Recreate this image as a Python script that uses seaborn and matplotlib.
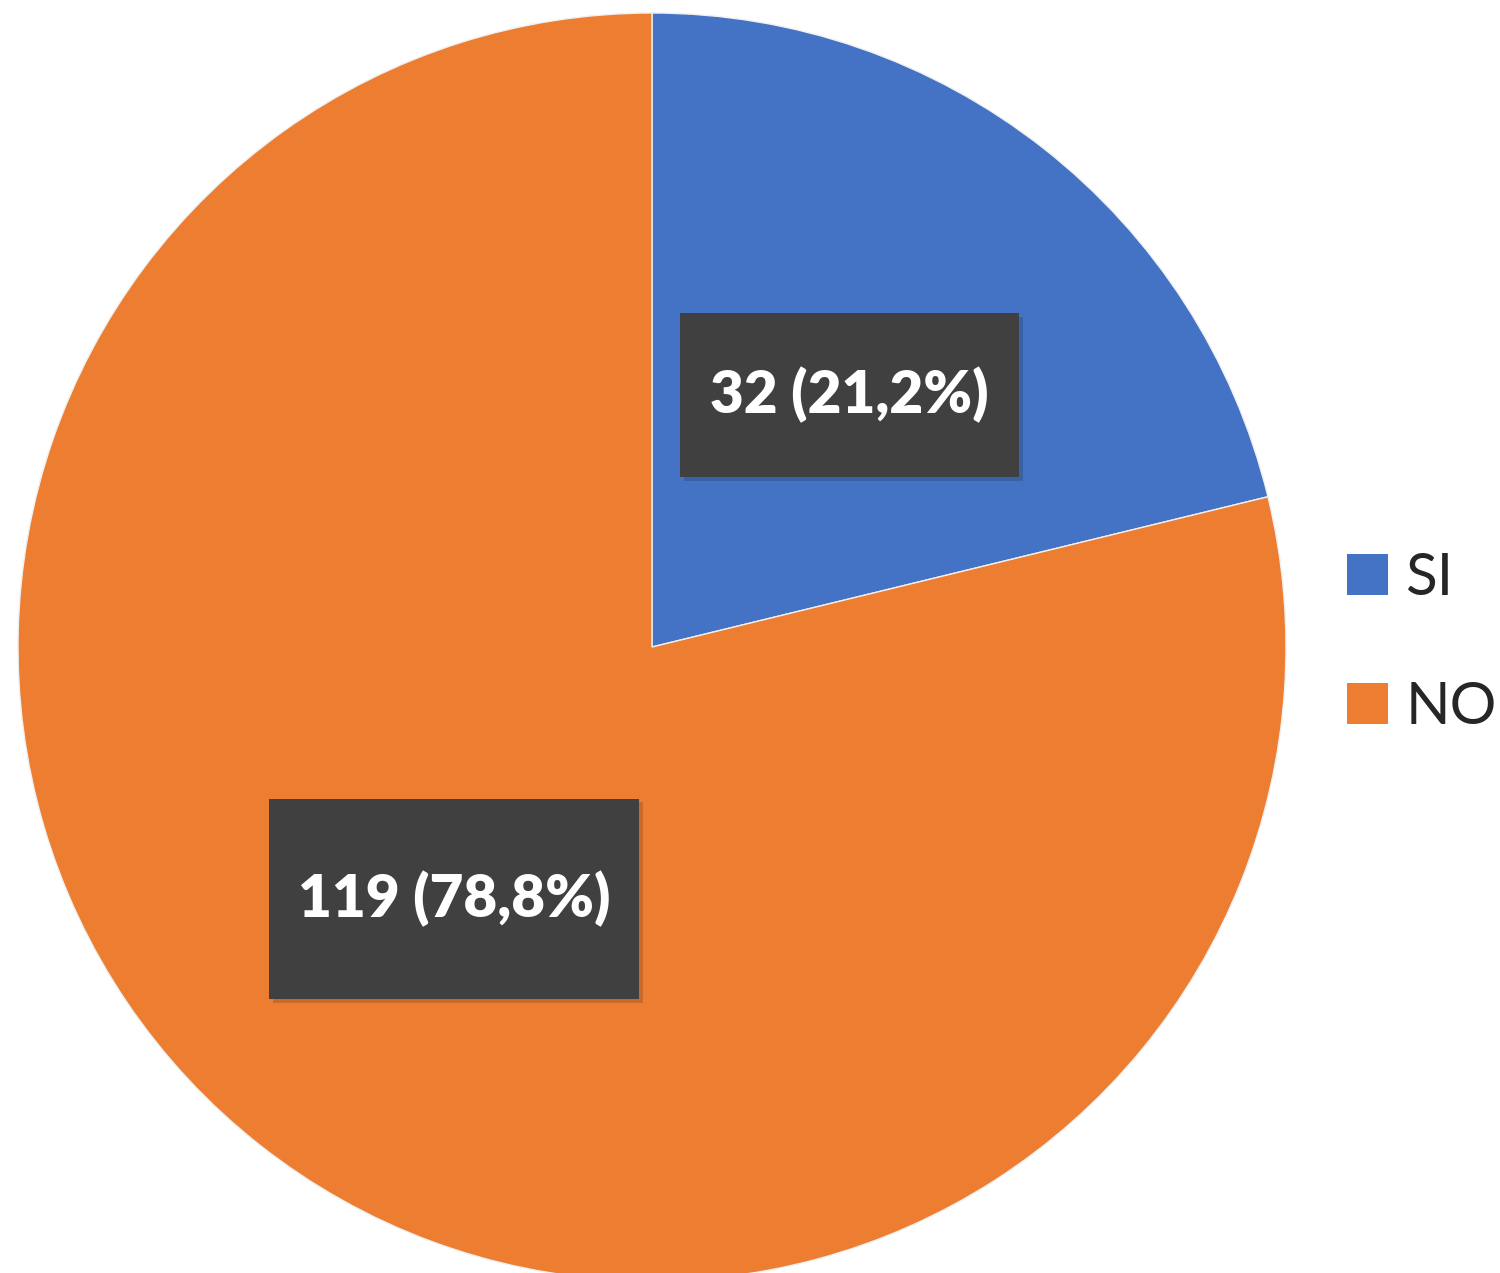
import matplotlib
matplotlib.use("Agg")
import matplotlib.pyplot as plt
import seaborn as sns
from matplotlib.patches import Rectangle, Patch

# ------------------------------------------------------------
# DATA
# ------------------------------------------------------------
categories = ["SI", "NO"]
counts = [32, 119]
percents = [21.2, 78.8]
colors = ["#4472C4", "#ED7D31"]

sns.set_theme(style="white")
plt.rcParams["font.family"] = ["Lato", "DejaVu Sans"]

W, H = 1500, 1273
fig = plt.figure(figsize=(15, 12.73), dpi=100)
fig.patch.set_facecolor("white")

# pie centre / radius in pixels
cx, cy, r = 652, 647, 634
ax = fig.add_axes([(cx - r) / W, (H - cy - r) / H, 2 * r / W, 2 * r / H])

wedges, texts, autotexts = ax.pie(
    counts,
    colors=colors,
    startangle=90,
    counterclock=False,
    radius=1,
    autopct="%1.1f",
    pctdistance=0.505,
    wedgeprops=dict(linewidth=1, edgecolor="#f0f0f0"),
)
ax.set_xlim(-1, 1)
ax.set_ylim(-1, 1)
ax.set_aspect("equal")
ax.axis("off")

for t, c, p in zip(autotexts, counts, percents):
    t.set_text(f"{c} ({p:.1f}%)".replace(".", ","))
    t.set_color("white")
    t.set_fontsize(42)
    t.set_fontweight("heavy")
    t.set_zorder(5)

# dark label boxes
fig.canvas.draw()
renderer = fig.canvas.get_renderer()
pad_x = [30, 29]
pad_y = [54, 72]
for t, px, py in zip(autotexts, pad_x, pad_y):
    bb = t.get_window_extent(renderer)
    x0, y0 = bb.x0 - px, bb.y0 - py
    w, h = bb.width + 2 * px, bb.height + 2 * py
    (dx0, dy0) = ax.transData.inverted().transform((x0, y0))
    (dx1, dy1) = ax.transData.inverted().transform((x0 + w, y0 + h))
    ax.add_patch(Rectangle((dx0 + 0.006, dy0 - 0.006), dx1 - dx0, dy1 - dy0,
                           facecolor="black", alpha=0.15, zorder=3, linewidth=0))
    ax.add_patch(Rectangle((dx0, dy0), dx1 - dx0, dy1 - dy0,
                           facecolor="#404040", zorder=4, linewidth=0))

# legend
handles = [Patch(facecolor=col, edgecolor="none", label=lab)
           for col, lab in zip(colors, categories)]
fig.legend(
    handles=handles,
    loc="center left",
    bbox_to_anchor=(1347 / W, 1 - 643 / H),
    frameon=False,
    fontsize=42,
    handlelength=0.7,
    handleheight=0.7,
    handletextpad=0.3,
    labelspacing=1.3,
    borderaxespad=0,
    borderpad=0,
)

fig.savefig("out.png", dpi=100, facecolor="white")
